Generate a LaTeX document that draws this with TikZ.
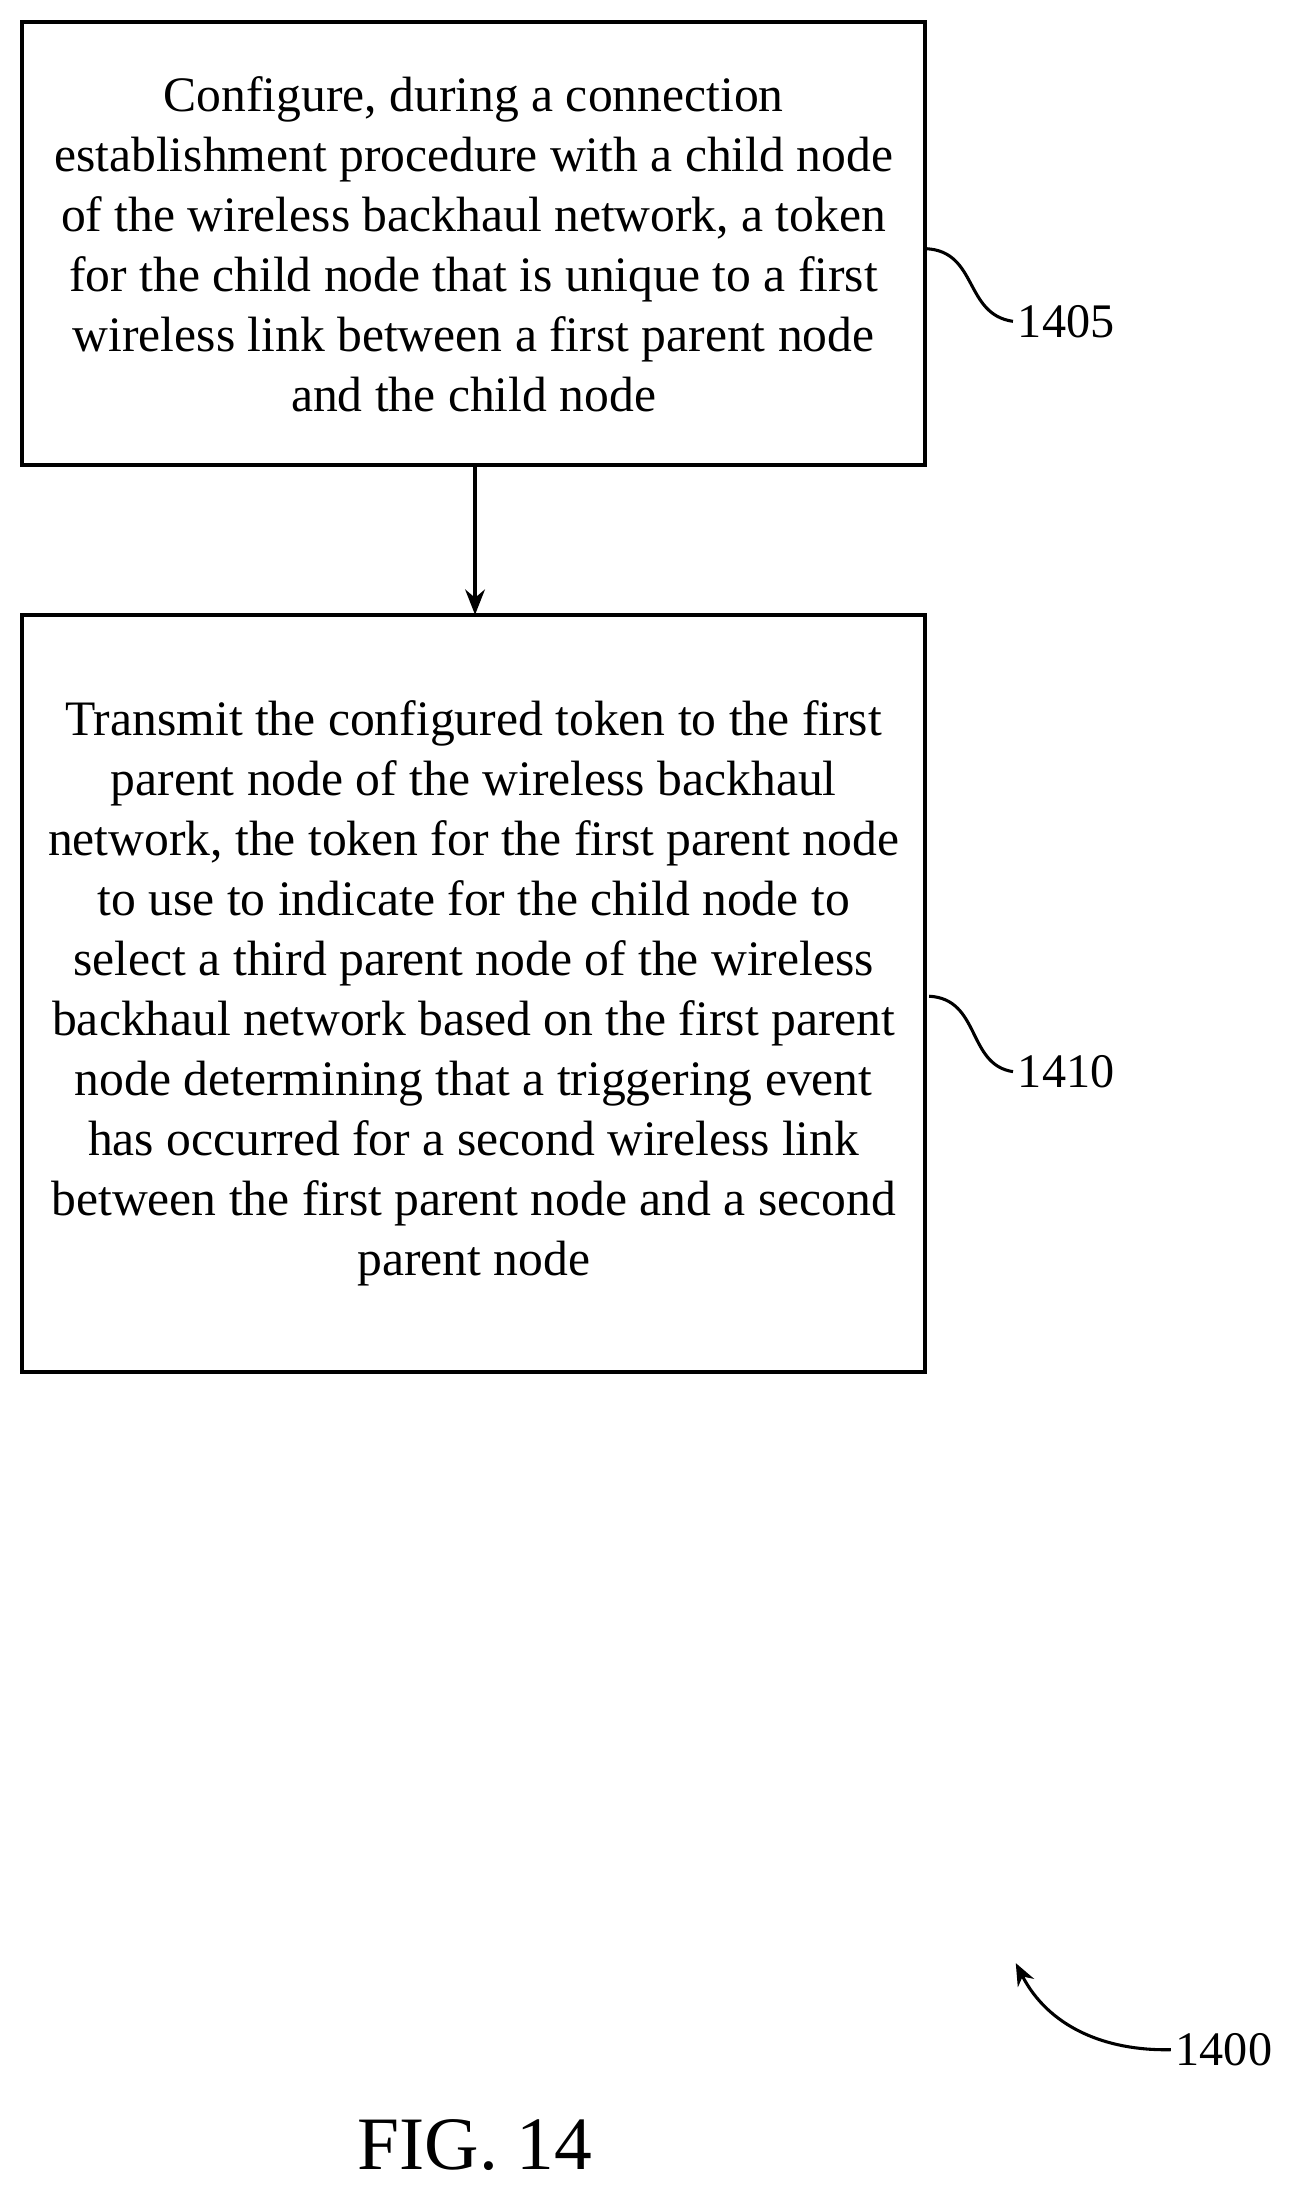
\documentclass[tikz,border=0pt]{standalone}
\usetikzlibrary{arrows.meta}
\usepackage{fontspec}
\setmainfont{Liberation Serif}
\begin{document}
\begin{tikzpicture}[x=1pt,y=-1pt,
  box/.style={align=center,font=\fontsize{35.5}{43}\selectfont,inner sep=0pt},
  lbl/.style={font=\fontsize{34.5}{38}\selectfont,anchor=west},
  lead/.style={line width=2.2pt}]
\useasboundingbox (0,0) rectangle (940,1566);
\draw[line width=3pt] (16,16) rectangle (662,333);
\node[box] (b1) at (339,175) {Configure, during a connection\\establishment procedure with a child node\\of the wireless backhaul network, a token\\for the child node that is unique to a first\\wireless link between a first parent node\\and the child node};
\coordinate (b1s) at (340,333);
\draw[line width=3pt] (16,440) rectangle (662,982);
\node[box] (b2) at (339,711) {Transmit the configured token to the first\\parent node of the wireless backhaul\\network, the token for the first parent node\\to use to indicate for the child node to\\select a third parent node of the wireless\\backhaul network based on the first parent\\node determining that a triggering event\\has occurred for a second wireless link\\between the first parent node and a second\\parent node};
\coordinate (b2n) at (340,440);
\draw[line width=3pt,-{Stealth[length=18pt,width=14pt]}] (b1s) -- (b2n);
\node[lbl] (l1) at (725,230) {1405};
\draw[lead] (663,178) .. controls (700,180) and (690,225) .. (l1.west);
\node[lbl] (l2) at (725,767) {1410};
\draw[lead] (665,713) .. controls (702,715) and (692,762) .. (l2.west);
\node[lbl] (l3) at (838,1467) {1400};
\draw[lead,-{Stealth[length=16pt,width=13pt]}] (l3.west) .. controls (790,1468) and (750,1450) .. (727,1405);
\node[font=\fontsize{54}{58}\selectfont] (fig) at (340,1535) {FIG. 14};
\end{tikzpicture}
\end{document}
